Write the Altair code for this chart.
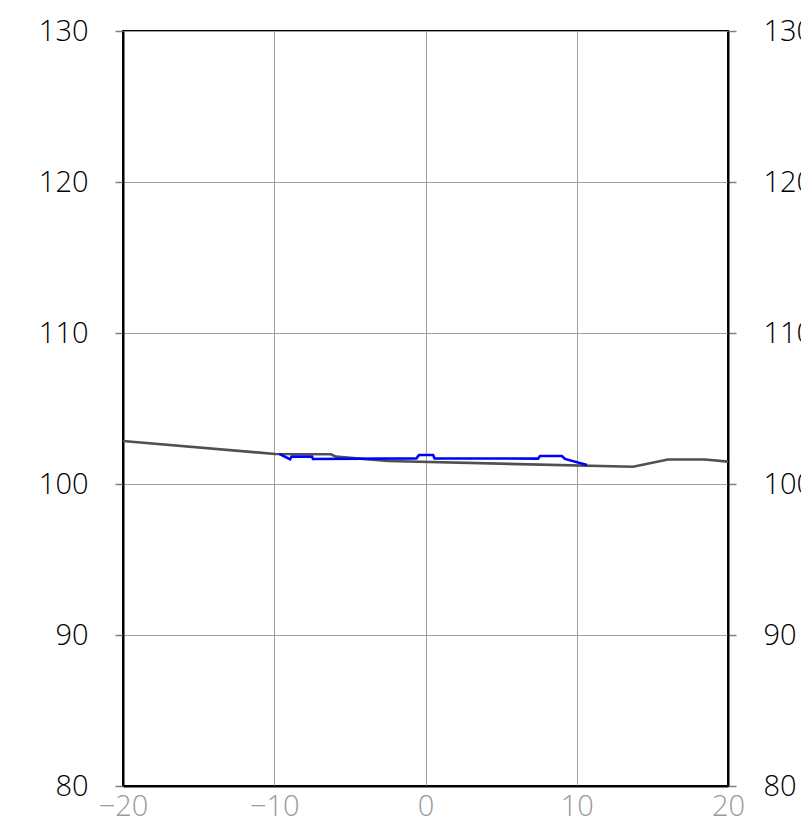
import altair as alt
import pandas as pd

gray_x = [-20, -9.95, -6.25, -5.92, -2.48, 13.72, 16.03, 18.48, 20]
gray_y = [102.85, 101.99, 101.97, 101.81, 101.52, 101.14, 101.62, 101.62, 101.48]

blue_x = [-9.67, -8.96, -8.85, -7.5, -7.44, -0.6, -0.43, 0.5, 0.6, 7.44, 7.57, 9.02, 9.22, 10.68]
blue_y = [101.99, 101.64, 101.81, 101.81, 101.66, 101.70, 101.92, 101.92, 101.70, 101.68, 101.85, 101.85, 101.66, 101.26]

x_ticks = [-20, -10, 0, 10, 20]
y_ticks = [80, 90, 100, 110, 120, 130]

gray = pd.DataFrame({"x": gray_x, "y": gray_y, "i": range(len(gray_x))})
blue = pd.DataFrame({"x": blue_x, "y": blue_y, "i": range(len(blue_x))})

FONT = "Open Sans"
xs = alt.Scale(domain=[-20, 20], nice=False, zero=False)
ys = alt.Scale(domain=[80, 130], nice=False, zero=False)

x_axis = alt.Axis(values=x_ticks, grid=True, ticks=False, labelColor="#9a9a9a",
                  labelPadding=6, title=None, domainColor="black", domainWidth=2,
                  labelFlush=False)

g = alt.Chart(gray).mark_line(color="#505050", strokeWidth=2.6).encode(
    x=alt.X("x:Q", scale=xs, axis=x_axis),
    y=alt.Y("y:Q", scale=ys, axis=alt.Axis(orient="left", values=y_ticks, grid=True,
                                           title=None, labelColor="black", tickSize=8,
                                           labelPadding=27, domainColor="black",
                                           domainWidth=2, labelFlush=False)),
    order="i:Q",
)

b = alt.Chart(blue).mark_line(color="#0000ff", strokeWidth=2.6).encode(
    x=alt.X("x:Q", scale=xs, axis=x_axis),
    y=alt.Y("y:Q", scale=ys, axis=alt.Axis(orient="right", values=y_ticks, grid=False,
                                           title=None, labelColor="black", tickSize=8,
                                           labelPadding=27, domainColor="black",
                                           domainWidth=2, labelFlush=False)),
    order="i:Q",
)

chart = alt.layer(g, b).resolve_axis(y="independent").properties(
    width=605, height=755,
    autosize=alt.AutoSizeParams(type="none"),
    padding={"left": 115, "top": 23, "right": 73, "bottom": 32},
).configure_axis(
    labelFont=FONT, labelFontSize=29, labelFontWeight=300,
    gridColor="#a0a0a0", gridWidth=1, tickColor="#808080", tickWidth=1.5,
).configure_view(stroke="black", strokeWidth=2)

chart.save("out.html", embed_options={"renderer": "svg", "actions": False})
